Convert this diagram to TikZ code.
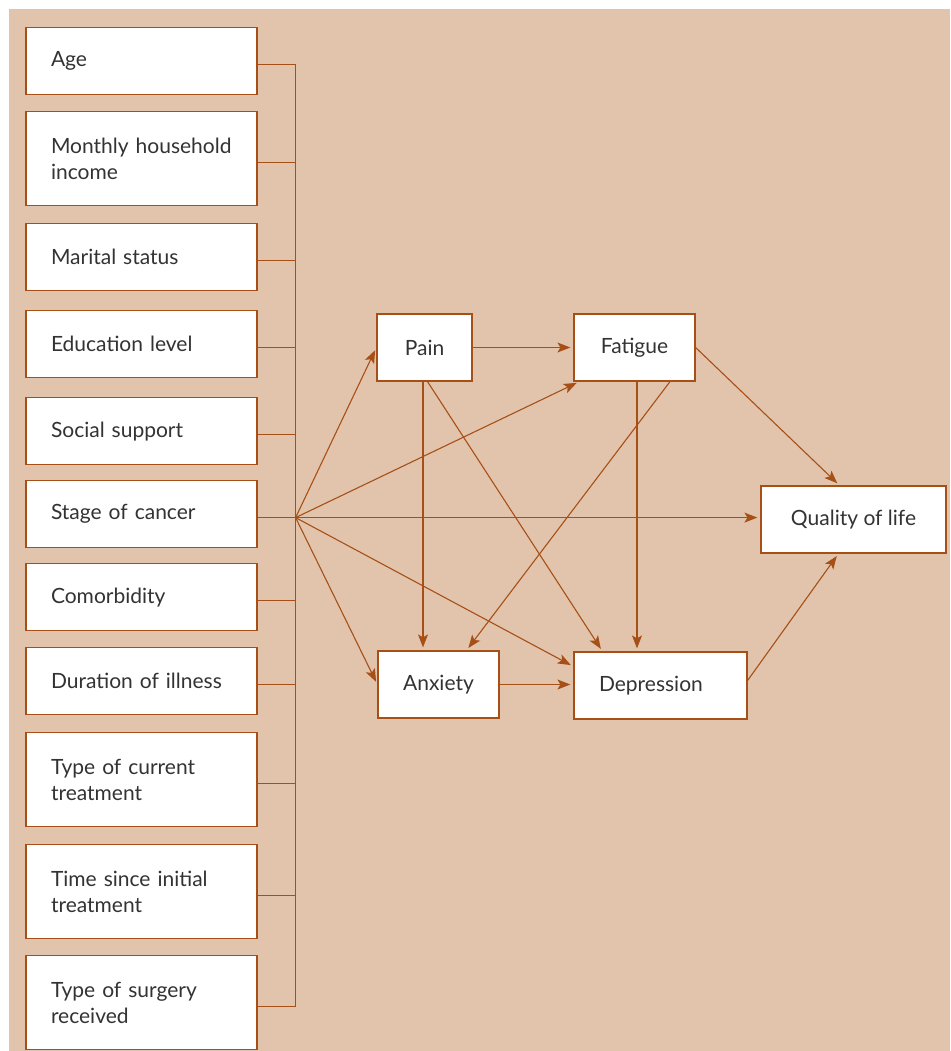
\documentclass[tikz,border=0pt]{standalone}
\usepackage{fontspec}
\setmainfont{Lato}
\usepackage{tikz}
\usetikzlibrary{positioning,arrows.meta,calc}
\definecolor{bg}{RGB}{226,196,172}
\definecolor{rust}{RGB}{166,80,24}
\definecolor{ink}{RGB}{51,51,51}

\begin{document}
\begin{tikzpicture}[x=1pt,y=-1pt,
	box/.style={shape=rectangle,draw=rust,line width=1.2pt,fill=white,text=ink,font=\fontsize{21}{26}\selectfont},
	factor/.style={box,anchor=north,text width=181pt,inner xsep=25pt,inner ysep=0pt,align=left,minimum height=67pt},
	tall/.style={factor,minimum height=94pt},
	mid/.style={box,inner xsep=0pt,minimum height=67pt},
	link/.style={draw=rust,line width=1.1pt},
	arr/.style={link,-{Stealth[length=13pt,width=10pt,inset=3pt]},shorten >=3pt}]
		\useasboundingbox (0,0) rectangle (950,1051);
		\fill[bg] (9,9) rectangle (950,1051);
		% left column
		\node(age) [factor] at (141.5,27) {Age};
		\node(income) [tall] at (141.5,111) {Monthly household\\income};
		\node(marital) [factor] at (141.5,223) {Marital status};
		\node(educ) [factor] at (141.5,310) {Education level};
		\node(social) [factor] at (141.5,397) {Social support};
		\node(stage) [factor] at (141.5,480) {Stage of cancer};
		\node(comorb) [factor] at (141.5,563) {Comorbidity};
		\node(duration) [factor] at (141.5,647) {Duration of illness};
		\node(treat) [tall] at (141.5,732) {Type of current\\treatment};
		\node(time) [tall] at (141.5,844) {Time since initial\\treatment};
		\node(surgery) [tall] at (141.5,955) {Type of surgery\\received};
		\foreach \n in {age,income,marital,educ,social,stage,comorb,duration,treat,time,surgery}
			\draw[link] ([yshift=-3.5pt]\n.east) -- ++(38,0) coordinate (\n-s);
		\draw[link] (age-s) -- (surgery-s);
		\coordinate (hub) at (stage-s);
		% symptoms and outcome
		\node(pain) [mid,minimum width=95pt] at (424.5,347.5) {Pain};
		\node(fatigue) [mid,minimum width=121pt] at (634.5,347.5) {Fatigue};
		\node(anxiety) [mid,minimum width=121pt] at (438.5,684.5) {Anxiety};
		\node(depression) [mid,minimum width=173pt,text width=153pt,align=left,inner xsep=10pt] at (660.5,685.5) {\hspace*{15pt}Depression};
		\node(quality) [mid,minimum width=185pt] at (853.5,519.5) {Quality of life};
		\draw[arr] (hub) -- (pain.west);
		\draw[arr] (hub) -- ([xshift=6pt]fatigue.south west);
		\draw[arr] (hub) -- (hub -| quality.west);
		\draw[arr] (hub) -- ([yshift=19pt]depression.west);
		\draw[arr] (hub) -- (anxiety.west);
		\draw[arr] (pain.east) -- (fatigue.west);
		\draw[arr] ([xshift=-1.5pt]pain.south) -- ([xshift=-1.5pt]pain.south |- anxiety.north);
		\draw[arr] ([xshift=3pt]pain.south) -- ([xshift=-58pt]depression.north);
		\draw[arr] ([xshift=35.5pt]fatigue.south) -- ([xshift=28pt]anxiety.north);
		\draw[arr] ([xshift=2.5pt]fatigue.south) -- ([xshift=2.5pt]fatigue.south |- depression.north);
		\draw[arr] (fatigue.east) -- ([xshift=-14pt]quality.north);
		\draw[arr] (anxiety.east) -- (anxiety.east -| depression.west);
		\draw[arr] ([yshift=5pt]depression.east) -- ([xshift=-15pt]quality.south);
	\end{tikzpicture}
\end{document}
